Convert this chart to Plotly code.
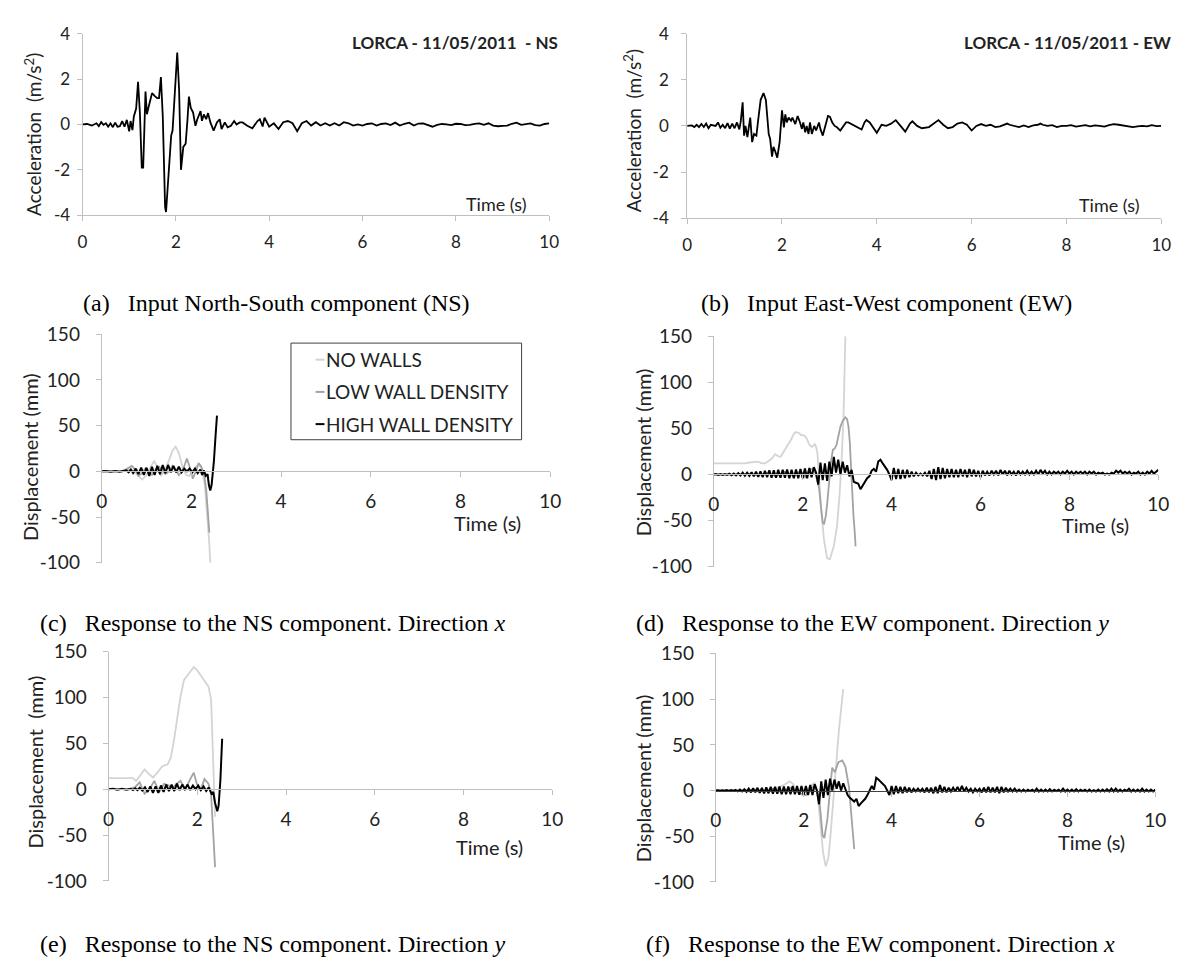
import plotly.graph_objects as go

W, H = 1182, 963

# ------------------------------------------------------------------ data
series_names = ["NO WALLS", "LOW WALL DENSITY", "HIGH WALL DENSITY"]
series_colors = ["#d4d4d4", "#a3a3a3", "#000000"]
x_ticks = [0, 2, 4, 6, 8, 10]
acc_ticks = [-4, -2, 0, 2, 4]
disp_ticks = [-100, -50, 0, 50, 100, 150]

# (time s, acceleration m/s2) - LORCA NS
ns_acc = [(0, 0), (0.1, 0.02), (0.2, -0.05), (0.3, 0.05), (0.35, -0.08), (0.4, 0.1), (0.45, -0.02),
          (0.5, 0.05), (0.55, -0.1), (0.6, 0.05), (0.65, -0.12), (0.7, 0.08), (0.75, -0.1), (0.8, -0.08),
          (0.85, 0.15), (0.9, -0.1), (0.95, 0.2), (1.0, -0.3), (1.03, 0.15), (1.07, -0.25), (1.1, 0.35),
          (1.15, 0.7), (1.19, 1.88), (1.23, 0.5), (1.27, -1.9), (1.3, -1.9), (1.35, 1.45), (1.38, 0.45),
          (1.42, 0.8), (1.49, 1.38), (1.55, 1.25), (1.6, 1.16), (1.64, 1.16), (1.68, 2.09), (1.72, 0.37),
          (1.77, -3.64), (1.79, -3.86), (1.84, -2.35), (1.9, -0.49), (1.93, -0.27), (1.98, 1.52),
          (2.03, 3.17), (2.07, 1.52), (2.11, -2.0), (2.16, -0.99), (2.21, -0.85), (2.25, 0.23),
          (2.28, 1.23), (2.32, 0.73), (2.37, 0.52), (2.42, -0.06), (2.46, 0.23), (2.53, 0.59),
          (2.56, 0.16), (2.6, 0.44), (2.65, 0.23), (2.69, 0.5), (2.74, 0.09), (2.81, -0.27), (2.88, 0.09),
          (2.94, 0.23), (2.98, -0.2), (3.05, 0.09), (3.11, -0.13), (3.18, -0.06), (3.25, 0.15), (3.3, 0.0),
          (3.37, 0.09), (3.43, 0.09), (3.53, -0.06), (3.64, -0.17), (3.75, 0.15), (3.8, 0.23), (3.86, -0.09),
          (3.9, 0.3), (4.0, -0.1), (4.1, 0.05), (4.2, -0.2), (4.3, 0.1), (4.4, 0.15), (4.5, 0.05),
          (4.6, -0.3), (4.7, 0.05), (4.8, 0.15), (4.9, -0.05), (5.0, 0.1), (5.1, -0.05), (5.2, 0.05),
          (5.3, -0.05), (5.4, 0.05), (5.5, -0.05), (5.6, 0.1), (5.7, 0.05), (5.8, -0.05), (5.9, 0.0),
          (6.0, -0.05), (6.1, 0.02), (6.2, 0.05), (6.3, -0.05), (6.4, 0.02), (6.5, 0.05), (6.6, -0.03),
          (6.7, 0.08), (6.8, -0.05), (6.9, 0.03), (7.0, 0.08), (7.1, -0.05), (7.2, 0.04), (7.3, 0.05),
          (7.4, -0.03), (7.5, -0.1), (7.6, -0.02), (7.7, 0.02), (7.8, 0.0), (7.9, -0.03), (8.0, 0.03),
          (8.1, 0.02), (8.2, -0.03), (8.3, -0.02), (8.4, 0.03), (8.5, 0.05), (8.6, -0.02), (8.7, 0.05),
          (8.8, -0.05), (8.9, -0.08), (9.0, -0.06), (9.1, -0.05), (9.2, 0.03), (9.3, 0.08), (9.4, -0.02),
          (9.5, 0.02), (9.6, 0.05), (9.7, -0.03), (9.8, -0.05), (9.9, 0.02), (10.0, 0.05)]

# (time s, acceleration m/s2) - LORCA EW
ew_acc = [(0, 0), (0.1, 0.02), (0.15, -0.05), (0.2, 0.05), (0.25, -0.05), (0.3, 0.08), (0.35, -0.05),
          (0.4, 0.1), (0.45, -0.1), (0.5, 0.05), (0.6, 0.0), (0.65, 0.15), (0.7, -0.08), (0.75, 0.05),
          (0.8, -0.1), (0.85, 0.12), (0.9, -0.12), (0.95, 0.1), (1.0, -0.1), (1.05, 0.15), (1.1, -0.15),
          (1.13, 0.2), (1.17, 1.02), (1.2, -0.42), (1.23, 0.0), (1.27, -0.49), (1.33, 0.36), (1.37, -0.7),
          (1.41, -0.35), (1.46, -0.42), (1.5, 0.29), (1.55, 1.13), (1.61, 1.42), (1.66, 1.13),
          (1.72, -0.35), (1.75, -0.56), (1.79, -1.33), (1.82, -0.91), (1.86, -1.12), (1.9, -1.38),
          (1.95, -0.7), (2.0, 0.68), (2.04, -0.06), (2.07, 0.5), (2.1, 0.15), (2.14, 0.36), (2.19, 0.22),
          (2.22, 0.36), (2.28, 0.08), (2.33, 0.43), (2.38, 0.15), (2.42, -0.13), (2.45, 0.15),
          (2.49, -0.28), (2.52, 0.0), (2.56, -0.35), (2.59, 0.15), (2.63, -0.35), (2.68, 0.0),
          (2.72, -0.2), (2.78, 0.15), (2.81, -0.13), (2.86, -0.42), (2.92, 0.0), (2.97, 0.43), (3.01, 0.4),
          (3.06, 0.15), (3.11, 0.0), (3.16, -0.06), (3.23, -0.2), (3.31, 0.0), (3.35, 0.15), (3.4, 0.15),
          (3.47, 0.08), (3.54, 0.0), (3.61, -0.06), (3.68, -0.16), (3.74, 0.15), (3.78, 0.26), (3.85, 0.15),
          (3.9, 0.0), (3.95, -0.2), (4.0, -0.3), (4.1, 0.05), (4.2, 0.0), (4.3, 0.1), (4.4, 0.25),
          (4.5, 0.0), (4.6, -0.25), (4.7, 0.1), (4.75, 0.2), (4.85, 0.0), (4.95, -0.1), (5.1, -0.05),
          (5.2, 0.1), (5.3, 0.25), (5.4, 0.05), (5.5, -0.1), (5.6, -0.05), (5.7, 0.1), (5.8, 0.15),
          (5.9, 0.05), (6.0, -0.2), (6.1, 0.0), (6.2, 0.08), (6.3, 0.0), (6.4, 0.05), (6.5, -0.05),
          (6.6, -0.02), (6.7, 0.05), (6.75, 0.1), (6.8, 0.05), (6.9, 0.0), (7.0, -0.05), (7.1, 0.02),
          (7.2, -0.05), (7.3, 0.02), (7.4, 0.05), (7.45, 0.1), (7.5, 0.05), (7.6, 0.0), (7.7, 0.03),
          (7.8, -0.05), (7.9, 0.0), (8.0, 0.0), (8.1, 0.03), (8.2, -0.03), (8.3, 0.0), (8.4, 0.03),
          (8.5, -0.02), (8.6, 0.02), (8.7, 0.0), (8.8, -0.03), (8.9, 0.03), (9.0, 0.08), (9.1, 0.05),
          (9.2, 0.02), (9.3, -0.03), (9.4, -0.05), (9.5, -0.02), (9.6, 0.0), (9.7, -0.02), (9.8, 0.03),
          (9.9, -0.01), (10.0, 0.0)]

# (c) NS input, direction x : (time s, displacement mm)
c_nowalls = [(0, 0), (0.3, 0), (0.5, 0.5), (0.6, 2), (0.7, 1), (0.8, -4), (0.9, -9), (1.0, -4), (1.1, 6),
             (1.17, 11), (1.25, 4), (1.32, -5), (1.4, 0), (1.5, 12), (1.58, 23), (1.65, 27), (1.72, 20),
             (1.8, 5), (1.88, -4), (1.95, -5), (2.05, 2), (2.12, 6), (2.18, 7), (2.24, 2), (2.3, -15),
             (2.35, -45), (2.4, -80), (2.42, -100)]
c_low = [(0, 0), (0.4, 0), (0.5, 1), (0.6, 4), (0.67, 6), (0.75, 2), (0.82, -5), (0.9, -2), (0.97, 3),
         (1.05, -1), (1.12, -4), (1.2, 2), (1.28, 5), (1.35, 1), (1.42, -3), (1.5, 0), (1.58, 6), (1.65, 2),
         (1.72, -4), (1.8, 0), (1.9, 14), (1.96, 5), (2.03, -8), (2.1, 0), (2.16, 9), (2.22, 5), (2.28, -3),
         (2.33, -20), (2.37, -45), (2.4, -67)]
c_high = [(0, 0), (0.1, 0.5), (0.2, -0.5), (0.3, 0.5), (0.4, -0.5), (0.5, 0), (0.55, 1), (0.6, -1),
          (0.65, 2), (0.7, -2), (0.76, 3), (0.82, -3), (0.88, 4), (0.94, -4), (1.0, 4), (1.06, -5),
          (1.12, 5), (1.18, -4), (1.24, 6), (1.3, -3), (1.36, 7), (1.42, -2), (1.48, 7), (1.54, -1),
          (1.6, 6), (1.66, -1), (1.72, 5), (1.78, -1), (1.84, 3), (1.9, 0), (1.96, 3), (2.02, -1),
          (2.08, 3), (2.14, -2), (2.2, 2), (2.24, -4), (2.28, 1), (2.32, -5), (2.36, -3), (2.39, -15),
          (2.42, -21), (2.45, -15), (2.5, 10), (2.54, 40), (2.57, 61)]

# (d) EW input, direction y
d_nowalls = [(0, 12), (0.3, 12), (0.5, 12.5), (0.7, 12), (0.8, 13), (0.9, 13.5), (1.0, 14), (1.08, 12),
             (1.15, 12), (1.22, 14), (1.3, 17), (1.38, 22), (1.44, 20), (1.5, 19), (1.59, 26), (1.67, 32),
             (1.74, 38), (1.8, 44), (1.85, 46), (1.92, 45), (1.96, 43), (2.05, 42), (2.1, 38), (2.14, 33),
             (2.2, 30), (2.24, 31), (2.27, 33), (2.3, 30), (2.33, 24), (2.37, -4), (2.42, -40), (2.48, -71),
             (2.55, -91), (2.61, -92), (2.66, -85), (2.7, -78), (2.77, -57), (2.83, -22), (2.88, 20),
             (2.92, 66), (2.96, 150)]
d_low = [(0, 0), (0.5, 0), (0.8, 1), (1.0, -1), (1.2, 2), (1.4, -2), (1.6, 3), (1.8, -2), (1.95, 4),
         (2.05, -3), (2.15, 5), (2.22, 6), (2.28, 2), (2.33, -8), (2.37, -15), (2.41, -35), (2.45, -52),
         (2.48, -54), (2.52, -45), (2.55, -32), (2.6, -5), (2.64, 15), (2.68, 27), (2.72, 28), (2.76, 32),
         (2.8, 40), (2.85, 52), (2.9, 58), (2.96, 62), (3.0, 60), (3.03, 52), (3.06, 35), (3.08, 13),
         (3.11, -15), (3.14, -43), (3.17, -62), (3.19, -78)]
# high wall density, read every 0.05 s from 0 to 10 s
d_high = [0, 0.5, -0.5, 0.5, -0.5, 0.5, -0.5, 0.8, -0.8, 1,
          -1, 1.5, -1, 2, -1.5, 2, -1.5, 2.5, -2, 3,
          -2.5, 3.5, -3, 4, -3, 4.5, -3.5, 4.5, -3.5, 5,
          -3.5, 5, -3.5, 5.5, -4, 5, -4, 5.5, -4, 6,
          -4, 6.5, -4, 7, -3, 8, 2, -11, 13, -6,
          12, -7, 14, -2, 19, 2, 16, 0, 14, 2,
          10, -2, 5, -8, -9, -10, -16, -12, -8, -4,
          -2, 4, 6, 3, 14, 16, 12, 9, 5, 0,
          -6, 7, -5, 6, -5, 5, -4, 5, -3, 3,
          -2, 2, -1, 1, -1, 2, -2, 4, -5, 6,
          -6, 8, -5, 7, -4, 6, -3, 6, -3, 5,
          -3, 6, -2, 5, -3, 6, -2, 5, -2, 4,
          -3, 4, -1, 3, -1, 4, 0, 4, -1, 5,
          0, 4, -1, 4, 0, 3, -1, 4, 0, 3,
          0, 4, 0, 3, 0, 4, 0, 5, 1, 4,
          0, 3, 0, 3, 1, 3, 0, 3, 1, 4,
          1, 3, 0, 3, 1, 3, 1, 3, 0, 3,
          1, 3, 0, 2, 1, 2, 0, 1, 0, 2,
          1, 4, 2, 4, 1, 3, 1, 3, 0, 2,
          1, 3, 0, 2, 0, 3, 1, 4, 1, 3,
          5]

# (e) NS input, direction y
e_nowalls = [(0, 12), (0.2, 12), (0.3, 12.5), (0.44, 12.8), (0.55, 12), (0.62, 9), (0.7, 14.5),
             (0.81, 21.6), (0.92, 16), (1.0, 12.8), (1.1, 18), (1.21, 25), (1.33, 27), (1.4, 34), (1.47, 52),
             (1.55, 80), (1.62, 101), (1.7, 119), (1.77, 124), (1.84, 128), (1.92, 133), (1.99, 130),
             (2.09, 123), (2.18, 116), (2.25, 112), (2.31, 98), (2.35, 45), (2.38, -5), (2.4, -30)]
e_low = [(0, 0), (0.47, 0), (0.59, 2), (0.7, 7.4), (0.81, -5), (0.92, 0), (1.03, 9), (1.14, -3),
         (1.25, 5.7), (1.36, 4), (1.45, 1), (1.51, 5), (1.62, 9), (1.73, 0), (1.84, 11), (1.92, 18),
         (1.99, 5.7), (2.07, -1.4), (2.16, 11), (2.25, 6), (2.31, -5), (2.36, -44), (2.4, -85)]
e_high = [(0, 0), (0.1, 0.5), (0.2, -0.5), (0.3, 0.5), (0.4, -0.5), (0.5, 0.5), (0.55, -1), (0.6, 1),
          (0.65, -1), (0.7, 1.5), (0.76, -1.5), (0.82, 2), (0.88, -3), (0.94, 3), (1.0, -4), (1.06, 3),
          (1.12, -4), (1.18, 4), (1.24, -3), (1.3, 5), (1.36, -2), (1.42, 5), (1.48, -2), (1.54, 6),
          (1.6, -1), (1.66, 5), (1.72, 0), (1.78, 5), (1.84, -1), (1.9, 4), (1.96, 0), (2.02, 4),
          (2.08, -1), (2.14, 3), (2.2, -2), (2.26, 2), (2.32, -5), (2.36, -3), (2.4, -15), (2.45, -24),
          (2.48, -18), (2.52, 10), (2.56, 55)]

# (f) EW input, direction x
f_nowalls = [(0, 0), (0.5, 0), (0.8, 1), (1.0, -1), (1.2, 1), (1.4, 3), (1.55, 6), (1.68, 10), (1.76, 7),
             (1.83, 0), (1.9, -3), (1.98, -5), (2.05, -1), (2.13, 4), (2.24, 8), (2.29, 3), (2.32, -6),
             (2.38, -38), (2.44, -67), (2.5, -83), (2.56, -74), (2.6, -55), (2.64, -31), (2.69, 4),
             (2.74, 36), (2.8, 65), (2.86, 93), (2.9, 111)]
f_low = [(0, 0), (0.6, 0), (0.9, 1), (1.1, -1), (1.3, 2), (1.5, -2), (1.7, 3), (1.9, -3), (2.05, -5),
         (2.15, 2), (2.25, 5), (2.32, -2), (2.37, -17), (2.43, -49), (2.47, -52), (2.54, -31), (2.62, 11),
         (2.65, 25), (2.71, 20), (2.79, 31), (2.88, 33), (2.95, 26), (3.03, 4), (3.09, -31), (3.15, -64)]
f_high = [0, 0.3, -0.3, 0.3, -0.3, 0.5, -0.5, 0.5, -0.5, 0.8,
          -0.8, 1, -1, 1.5, -1.5, 2, -2, 2.5, -2, 3,
          -2.5, 3, -3, 3.5, -3, 4, -3.5, 4, -3.5, 4.5,
          -4, 4.5, -4, 4.5, -4, 5, -4, 5, -4.5, 5,
          -4.5, 5, -5, 6, -5, 7, 0, -15, 10, -8,
          12, -5, 13, 0, 12, 2, 10, 0, 8, 2,
          -5, -8, -10, -12, -9, -17, -14, -12, -9, -5,
          0, 5, 1, 14, 12, 10, 8, 5, 0, -5,
          5, -4, 5, -3, 4, -3, 4, -2, 3, -2,
          2, -1, 2, -1, 2, -2, 3, -2, 3, -3,
          4, -3, 6, -2, 4, -2, 3, -1, 3, -1,
          4, -1, 5, -1, 3, -1, 2, -2, 2, -1,
          2, -2, 3, -2, 4, -2, 3, -2, 4, -3,
          4, -2, 3, -1, 2, -1, 2, -1, 1, -1,
          1, -1, 1, -0.5, 1, -1, 2, -1, 1, -1,
          1, -1, 1.5, -1, 1, -0.5, 1, -1, 2, -1,
          1, -1, 1, -1, 1.5, -1, 1, -0.5, 1, -1,
          1, -1, 0.5, -1, 1, -1, 1, -1, 1.5, -1,
          2, -1, 2, -1, 1, -1, 1, -0.5, 2, -1,
          1, -1, 1, -1, 2, -1, 1, -1, 1, -1,
          1]
t_step = 0.05

# ------------------------------------------------------------------ layout helpers
def fx(px):
    return px / W


def fy(py):
    return 1 - py / H


def unzip(pts):
    return [p[0] for p in pts], [p[1] for p in pts]


def labels(vals):
    return [str(v) for v in vals]  # plain hyphen minus, as in the original


grid_t = [round(i * t_step, 2) for i in range(len(d_high))]

SANS = "Lato, 'Open Sans', sans-serif"
SERIF = "'Liberation Serif', 'Times New Roman', serif"
AX = "#bfbfbf"

# panel boxes in pixels: (left, right, top, bottom)
panels = {
    "a": (69.5, 543, 14, 200),
    "b": (683, 1164, 14, 203),
    "c": (89, 544, 322, 556),
    "d": (710, 1161, 324, 560),
    "e": (96, 546, 647, 882),
    "f": (712, 1158, 649, 883),
}

fig = go.Figure()
layout = dict(width=W, height=H, margin=dict(l=0, r=0, t=0, b=0),
              paper_bgcolor="white", plot_bgcolor="white", showlegend=False)

keys = ["a", "b", "c", "d", "e", "f"]
for i, k in enumerate(keys):
    n = "" if i == 0 else str(i + 1)
    l, r, t, b = panels[k]
    accel = k in ("a", "b")
    yr = [-4, 4] if accel else [-100, 150]
    yt = acc_ticks if accel else disp_ticks
    ydom = [fy(b), fy(t)]
    fsize = 17 if accel else 19
    xa = dict(domain=[fx(l), fx(r)], range=[0, 10], tickvals=x_ticks, ticktext=labels(x_ticks),
              showgrid=False, zeroline=False,
              showline=True, linecolor=AX, linewidth=1, ticks="outside", ticklen=5, tickcolor=AX,
              tickfont=dict(family=SANS, size=fsize, color="#222"))
    ya = dict(domain=ydom, range=yr, tickvals=yt, ticktext=labels(yt), showgrid=False,
              zeroline=False, showline=True, linecolor=AX, linewidth=1, ticks="outside", ticklen=5,
              tickcolor=AX, anchor="x" + n,
              tickfont=dict(family=SANS, size=fsize, color="#222"))
    if accel:
        xa["anchor"] = "y" + n
        xa["ticklabelstandoff"] = 6
        ya["ticklabelstandoff"] = 3 if k == "a" else 9
    else:
        zero_frac = ydom[0] + (0 - yr[0]) / (yr[1] - yr[0]) * (ydom[1] - ydom[0])
        xa["anchor"] = "free"
        xa["position"] = zero_frac
        xa["ticklabelstandoff"] = 8
        ya["ticklabelstandoff"] = 12
        if k == "f":
            xa["linecolor"] = "#404040"
    layout["xaxis" + n] = xa
    layout["yaxis" + n] = ya

# ------------------------------------------------------------------ traces
def add_line(tx, ty, idx, color, width):
    n = "" if idx == 0 else str(idx + 1)
    fig.add_trace(go.Scatter(x=tx, y=ty, mode="lines", xaxis="x" + n, yaxis="y" + n,
                             line=dict(color=color, width=width), hoverinfo="skip"))


tx, ty = unzip(ns_acc)
add_line(tx, ty, 0, "#000", 1.8)
tx, ty = unzip(ew_acc)
add_line(tx, ty, 1, "#000", 1.8)

resp = {
    2: [c_nowalls, c_low, c_high],
    3: [d_nowalls, d_low, d_high],
    4: [e_nowalls, e_low, e_high],
    5: [f_nowalls, f_low, f_high],
}
for idx, group in resp.items():
    for s, data in enumerate(group):
        if data and not isinstance(data[0], tuple):
            tx, ty = grid_t[:len(data)], data
        else:
            tx, ty = unzip(data)
        add_line(tx, ty, idx, series_colors[s], 2.0 if s == 2 else 1.8)

fig.update_layout(**layout)

# ------------------------------------------------------------------ text
ann = []


def text(x, y, s, size, family=SANS, xanchor="center", angle=0, color="#222"):
    ann.append(dict(x=fx(x), y=fy(y), xref="paper", yref="paper", text=s, showarrow=False,
                    xanchor=xanchor, yanchor="middle", textangle=angle,
                    font=dict(family=family, size=size, color=color)))


nb = "\u00a0"
acc_title = "Acceleration" + nb * 2 + "(m/s<sup>2</sup>)"
text(19, 117, acc_title, 19, angle=-90)
text(627, 113, acc_title, 19, angle=-90)
text(554, 23, "<b>LORCA - 11/05/2011" + nb * 2 + "- NS</b>", 17, xanchor="right")
text(1176, 23, "<b>LORCA - 11/05/2011 - EW</b>", 17, xanchor="right")
text(490, 189, "Time (s)", 18)
text(1111, 190, "Time (s)", 18)

text(17, 448, "Displacement (mm)", 20, angle=-90)
text(639, 443, "Displacement (mm)", 20, angle=-90)
text(21, 760, "Displacement" + nb * 2 + "(mm)", 20, angle=-90)
text(639, 777, "Displacement (mm)", 20, angle=-90)
for (x, y) in [(480, 515), (1097, 517), (482, 847), (1093, 842)]:
    text(x, y, "Time (s)", 20)

gap = nb * 3
captions = [
    (68, 290, "(a)" + gap + "Input North-South component (NS)"),
    (695, 290, "(b)" + gap + "Input East-West component (EW)"),
    (24, 618, "(c)" + gap + "Response to the NS component. Direction <i>x</i>"),
    (629, 618, "(d)" + gap + "Response to the EW component. Direction <i>y</i>"),
    (24, 947, "(e)" + gap + "Response to the NS component. Direction <i>y</i>"),
    (639, 947, "(f)" + gap + "Response to the EW component. Direction <i>x</i>"),
]
for x, y, s in captions:
    text(x, y, s, 24, family=SERIF, xanchor="left", color="#000")

# legend (drawn inside panel c)
shapes = [dict(type="rect", xref="paper", yref="paper", x0=fx(281), x1=fx(515), y0=fy(430), y1=fy(331),
               line=dict(color="#404040", width=1), fillcolor="white", layer="above")]
for s, yy in zip(range(3), [348, 381, 414]):
    shapes.append(dict(type="line", xref="paper", yref="paper", x0=fx(306), x1=fx(315), y0=fy(yy), y1=fy(yy),
                       line=dict(color=series_colors[s], width=2), layer="above"))
    text(315, yy, series_names[s], 19, xanchor="left")

fig.update_layout(annotations=ann, shapes=shapes)
fig.write_html("out.html")
